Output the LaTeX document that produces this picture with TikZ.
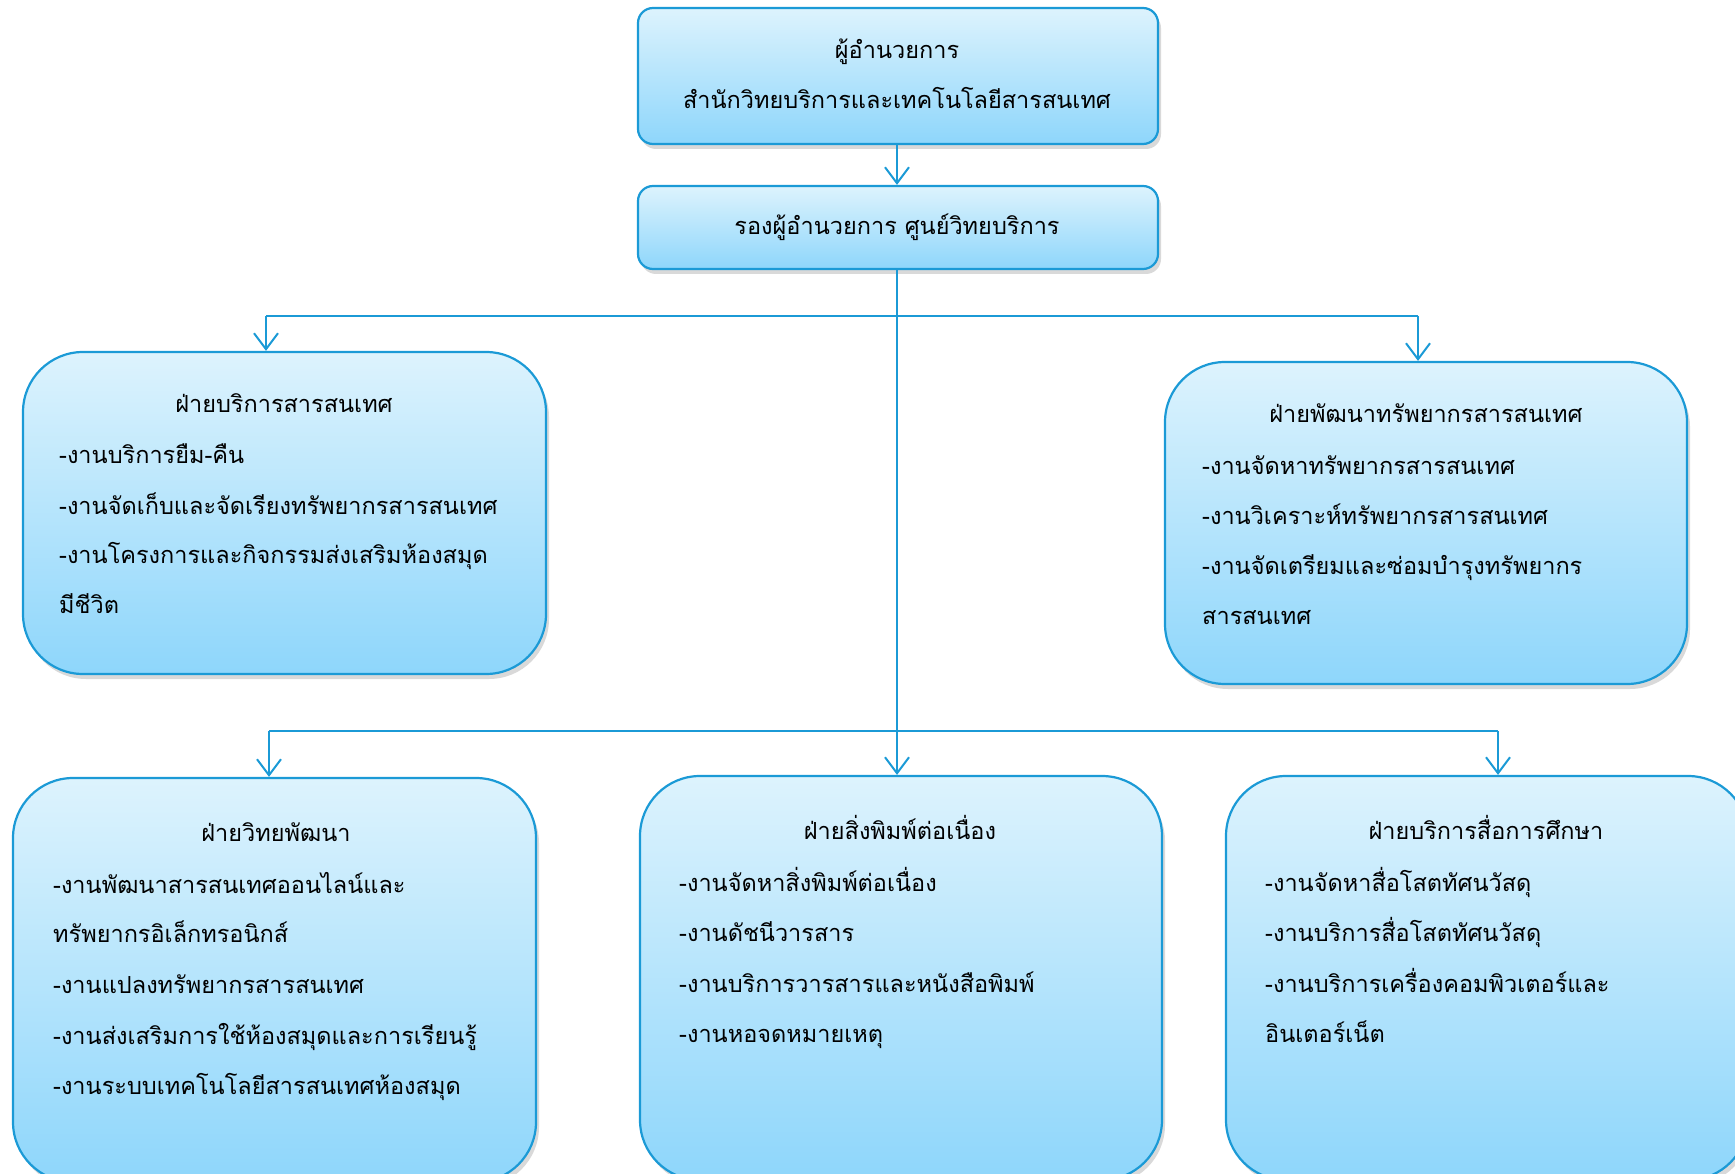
\documentclass[tikz,border=0pt]{standalone}
\usepackage{fontspec}
\newfontfamily\thai[Script=Thai]{Loma}
\usetikzlibrary{arrows.meta,shadows}
\definecolor{bordc}{HTML}{1B9AD6}
\definecolor{topc}{HTML}{DDF3FD}
\definecolor{botc}{HTML}{8ED6FB}
\begin{document}
\begin{tikzpicture}[x=1pt,y=-1pt,
  box/.style={draw=bordc, line width=2.2pt, top color=topc, bottom color=botc,
    rounded corners=#1, inner sep=0pt,
    drop shadow={shadow xshift=3pt, shadow yshift=-5pt, opacity=0.25, fill=black!60}},
  txt/.style={font=\thai\fontsize{23.5}{28}\selectfont, inner sep=0pt, text=black,
    text height=19pt, text depth=5pt, yshift=-2pt},
  itm/.style={txt, anchor=west},
  conn/.style={draw=bordc, line width=2pt},
  arr/.style={conn, -{Straight Barb[length=16pt,width=24pt,line width=2pt]}}]
\useasboundingbox (0,0) rectangle (1735,1174);
\begin{scope}
\clip (0,0) rectangle (1735,1174);
% boxes
\node[box=15pt, minimum width=520pt, minimum height=136pt] (top) at (898,76) {};
\node[box=15pt, minimum width=520pt, minimum height=83pt] (sub) at (898,227.5) {};
\node[box=60pt, minimum width=523pt, minimum height=322pt] (svc) at (284.5,513) {};
\node[box=60pt, minimum width=522pt, minimum height=322pt] (dev) at (1426,523) {};
\node[box=60pt, minimum width=523pt, minimum height=404pt] (rd) at (274.5,980) {};
\node[box=60pt, minimum width=522pt, minimum height=404pt] (ser) at (901,978) {};
\node[box=60pt, minimum width=522pt, minimum height=404pt] (med) at (1487,978) {};
% connectors
\coordinate (j1) at (897,316);
\coordinate (j2) at (897,731);
\coordinate (l1) at (266,316);
\coordinate (r1) at (1418,316);
\coordinate (l2) at (269,731);
\coordinate (r2) at (1498,731);
\draw[arr] (top.south -| j1) -- (sub.north -| j1);
\draw[conn] (sub.south -| j1) -- (j2);
\draw[arr] (j2) -- (ser.north -| j2);
\draw[conn] (l1) -- (r1);
\draw[arr] (l1) -- (l1 |- svc.north);
\draw[arr] (r1) -- (r1 |- dev.north);
\draw[conn] (l2) -- (r2);
\draw[arr] (l2) -- (l2 |- rd.north);
\draw[arr] (r2) -- (r2 |- med.north);
% texts
\node[txt] (t1) at (897,50) {ผู้อำนวยการ};
\node[txt] (t2) at (897,100) {สำนักวิทยบริการและเทคโนโลยีสารสนเทศ};
\node[txt] (t3) at (897,226) {รองผู้อำนวยการ ศูนย์วิทยบริการ};

\node[txt] (s0) at (284,403) {ฝ่ายบริการสารสนเทศ};
\node[itm] (s1) at (59,454) {-งานบริการยืม-คืน};
\node[itm] (s2) at (59,505) {-งานจัดเก็บและจัดเรียงทรัพยากรสารสนเทศ};
\node[itm] (s3) at (59,554) {-งานโครงการและกิจกรรมส่งเสริมห้องสมุด};
\node[itm] (s4) at (59,604) {มีชีวิต};

\node[txt] (d0) at (1426,413) {ฝ่ายพัฒนาทรัพยากรสารสนเทศ};
\node[itm] (d1) at (1202,465) {-งานจัดหาทรัพยากรสารสนเทศ};
\node[itm] (d2) at (1202,515) {-งานวิเคราะห์ทรัพยากรสารสนเทศ};
\node[itm] (d3) at (1202,565) {-งานจัดเตรียมและซ่อมบำรุงทรัพยากร};
\node[itm] (d4) at (1202,615) {สารสนเทศ};

\node[txt] (r0) at (276,832) {ฝ่ายวิทยพัฒนา};
\node[itm] (r1t) at (53,884) {-งานพัฒนาสารสนเทศออนไลน์และ};
\node[itm] (r2t) at (53,933) {ทรัพยากรอิเล็กทรอนิกส์};
\node[itm] (r3t) at (53,984) {-งานแปลงทรัพยากรสารสนเทศ};
\node[itm] (r4t) at (53,1035) {-งานส่งเสริมการใช้ห้องสมุดและการเรียนรู้};
\node[itm] (r5t) at (53,1085) {-งานระบบเทคโนโลยีสารสนเทศห้องสมุด};

\node[txt] (p0) at (900,830) {ฝ่ายสิ่งพิมพ์ต่อเนื่อง};
\node[itm] (p1) at (679,882) {-งานจัดหาสิ่งพิมพ์ต่อเนื่อง};
\node[itm] (p2) at (679,932) {-งานดัชนีวารสาร};
\node[itm] (p3) at (679,983) {-งานบริการวารสารและหนังสือพิมพ์};
\node[itm] (p4) at (679,1033) {-งานหอจดหมายเหตุ};

\node[txt] (m0) at (1486,830) {ฝ่ายบริการสื่อการศึกษา};
\node[itm] (m1) at (1265,882) {-งานจัดหาสื่อโสตทัศนวัสดุ};
\node[itm] (m2) at (1265,932) {-งานบริการสื่อโสตทัศนวัสดุ};
\node[itm] (m3) at (1265,983) {-งานบริการเครื่องคอมพิวเตอร์และ};
\node[itm] (m4) at (1265,1033) {อินเตอร์เน็ต};
\end{scope}
\end{tikzpicture}
\end{document}
